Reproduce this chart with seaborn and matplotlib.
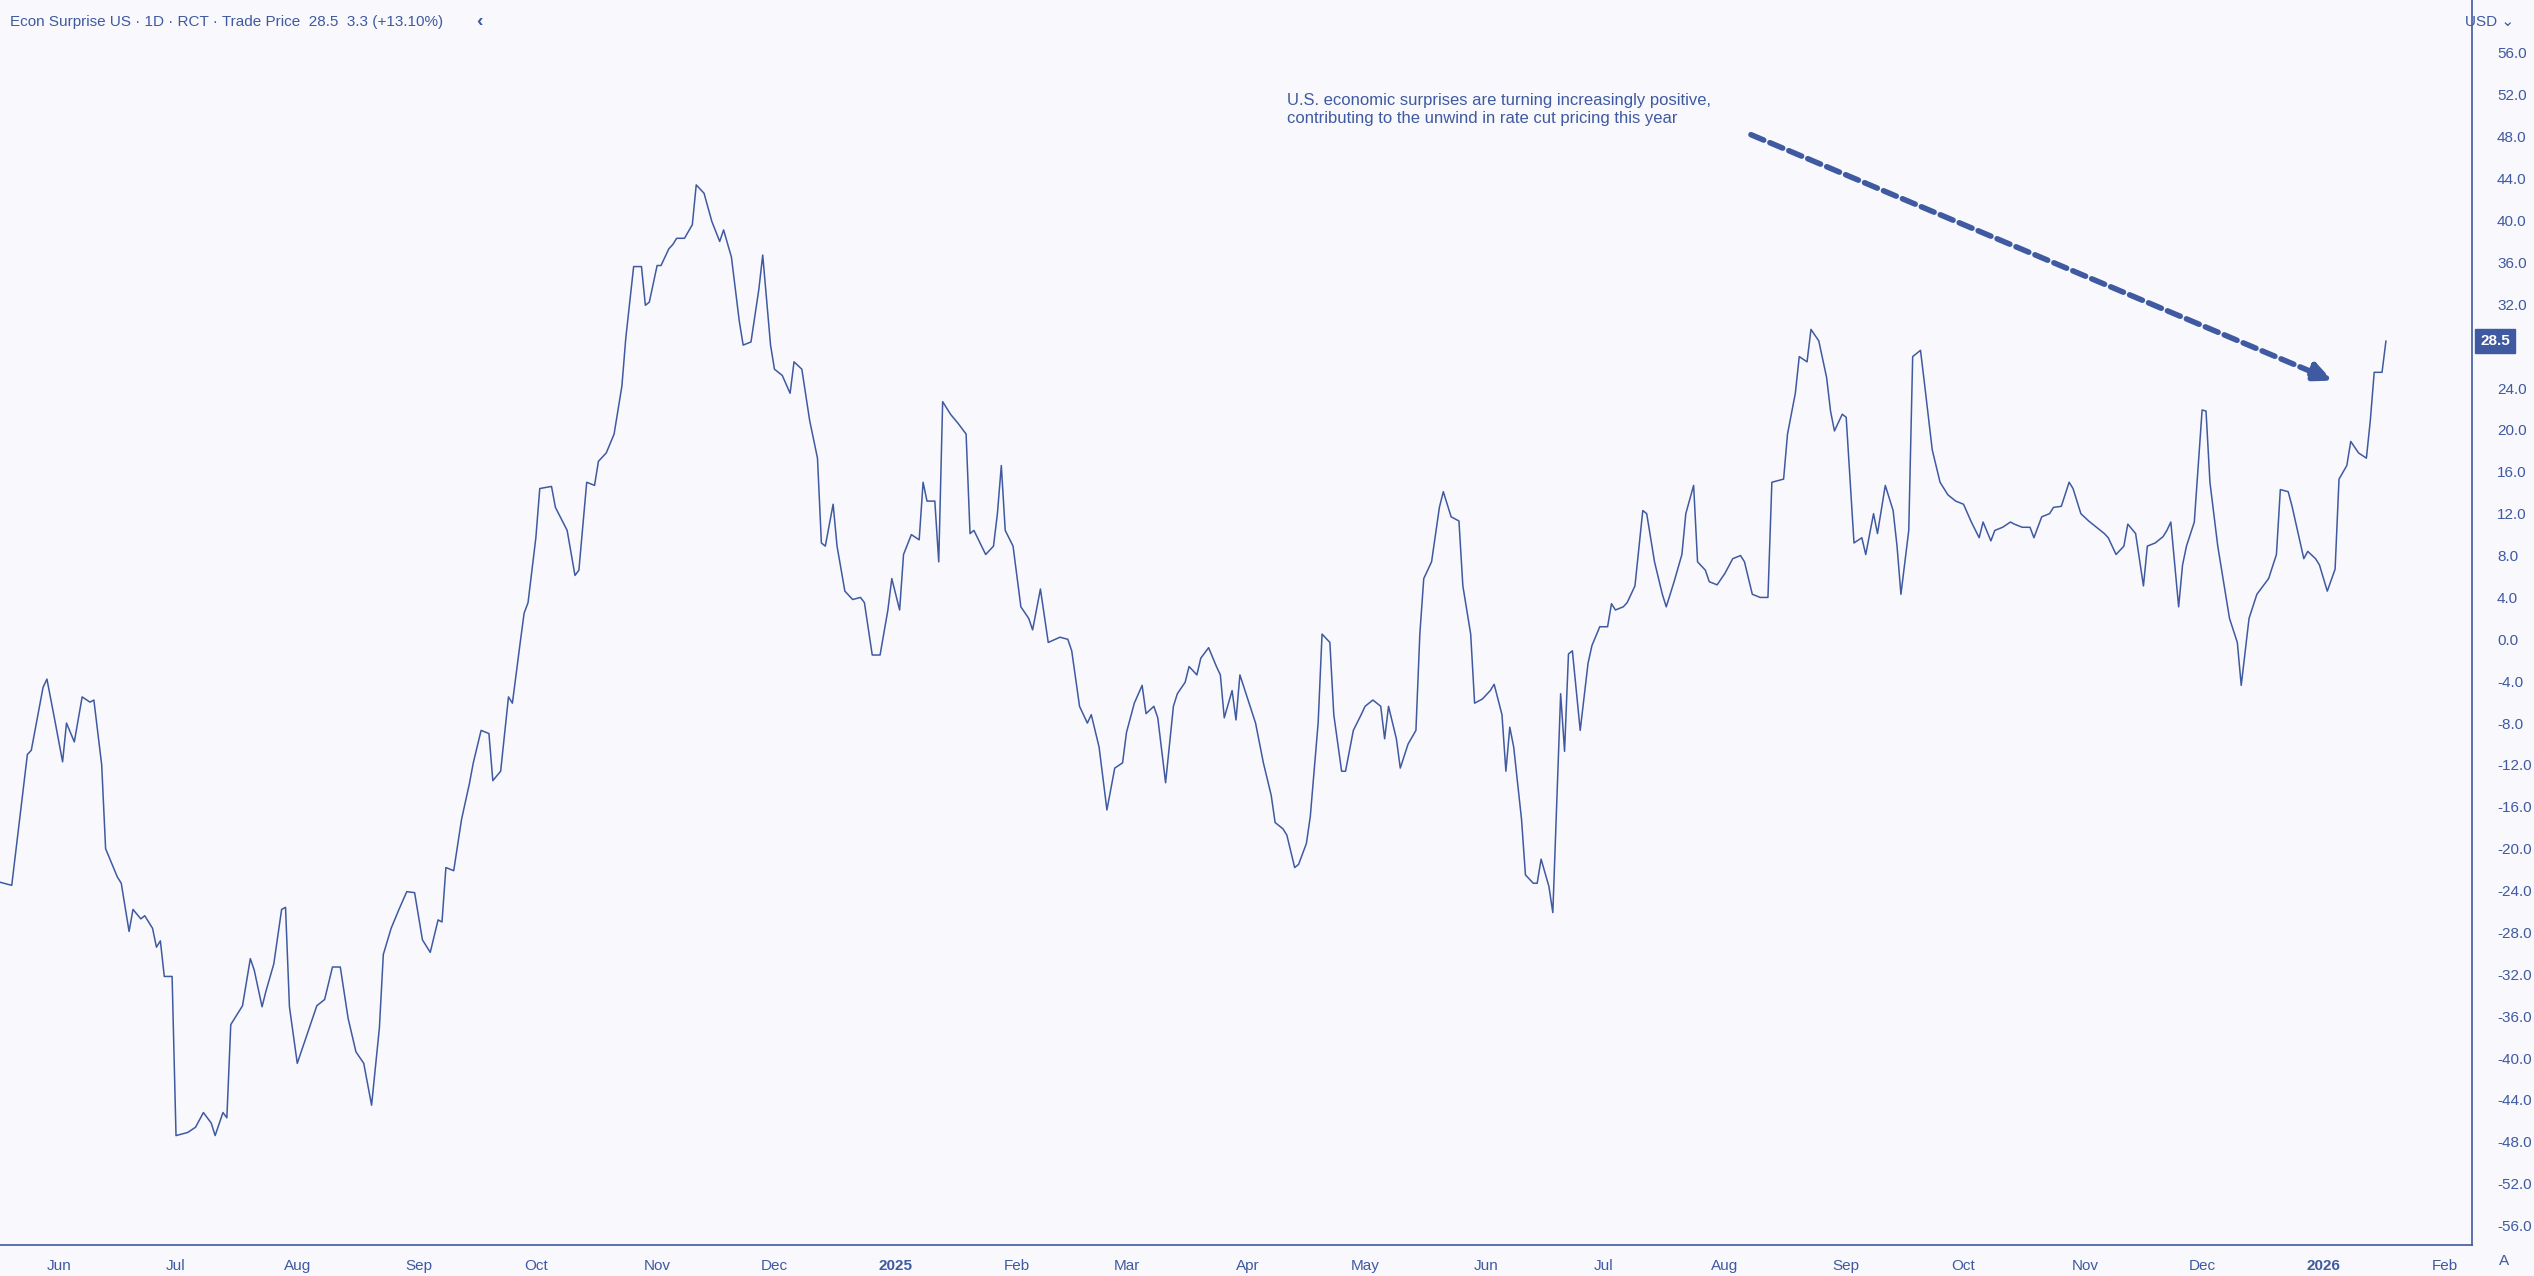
import pandas as pd
import matplotlib
matplotlib.use("Agg")
import matplotlib.pyplot as plt
import seaborn as sns

# =====================================================
# Data
# =====================================================

START = pd.Timestamp("2024-05-17")

day_offsets = [
    0, 3, 7, 8, 11, 12, 14, 16, 17, 19,
    21, 23, 24, 26, 27, 30, 31, 33, 34, 36,
    37, 39, 40, 41, 42, 44, 45, 48, 50, 52,
    54, 55, 57, 58, 59, 62, 64, 65, 67, 68,
    70, 72, 73, 74, 76, 78, 81, 83, 85, 87,
    89, 91, 93, 95, 97, 98, 100, 102, 104, 106,
    108, 110, 112, 113, 114, 116, 118, 120, 121, 123,
    125, 126, 128, 130, 131, 133, 134, 135, 137, 138,
    141, 142, 145, 147, 148, 150, 152, 153, 155, 157,
    159, 160, 162, 164, 165, 166, 168, 169, 171, 172,
    173, 175, 177, 178, 180, 182, 184, 185, 187, 189,
    190, 192, 194, 195, 197, 198, 200, 202, 203, 205,
    207, 209, 210, 211, 213, 214, 216, 218, 220, 221,
    223, 225, 227, 228, 230, 231, 233, 235, 236, 237,
    239, 240, 241, 243, 245, 247, 248, 249, 252, 254,
    255, 256, 257, 259, 261, 263, 264, 266, 268, 271,
    273, 274, 276, 278, 279, 281, 283, 285, 287, 288,
    290, 292, 293, 295, 296, 298, 300, 301, 303, 304,
    306, 307, 309, 311, 312, 313, 315, 316, 317, 319,
    321, 323, 325, 326, 328, 329, 331, 332, 334, 335,
    337, 338, 340, 341, 343, 344, 346, 348, 349, 351,
    353, 354, 355, 357, 358, 360, 362, 363, 364, 366,
    368, 369, 371, 373, 374, 376, 377, 379, 381, 382,
    384, 385, 386, 387, 389, 390, 392, 393, 394, 396,
    397, 399, 400, 401, 402, 404, 406, 407, 409, 411,
    412, 413, 415, 416, 418, 420, 421, 423, 425, 426,
    428, 430, 431, 433, 434, 436, 437, 439, 441, 443,
    445, 446, 448, 450, 452, 453, 456, 457, 459, 460,
    462, 463, 465, 467, 468, 469, 471, 472, 474, 476,
    477, 479, 480, 482, 484, 485, 486, 488, 489, 491,
    492, 494, 496, 498, 500, 502, 504, 506, 507, 509,
    510, 512, 514, 515, 517, 519, 520, 522, 524, 525,
    527, 529, 530, 532, 534, 536, 538, 539, 541, 543,
    544, 546, 548, 549, 551, 553, 554, 555, 557, 558,
    559, 561, 563, 564, 565, 567, 568, 570, 572, 573,
    575, 577, 578, 580, 582, 583, 585, 586, 589, 590,
    592, 593, 595, 597, 598, 600, 601, 603, 605, 606,
    607, 609, 610,
]

surprise = [
    -23.2, -23.5, -11.0, -10.6, -4.6, -3.8, -7.7, -11.7, -8.0, -9.8,
    -5.5, -6.0, -5.8, -12.0, -20.0, -22.7, -23.3, -27.9, -25.8, -26.7,
    -26.4, -27.6, -29.4, -28.8, -32.2, -32.2, -47.4, -47.1, -46.6, -45.2,
    -46.2, -47.4, -45.2, -45.7, -36.8, -35.0, -30.5, -31.6, -35.1, -33.6,
    -31.0, -25.8, -25.6, -35.1, -40.5, -38.3, -35.0, -34.4, -31.3, -31.3,
    -36.2, -39.4, -40.5, -44.5, -37.1, -30.1, -27.6, -25.8, -24.1, -24.2,
    -28.7, -29.9, -26.8, -27.0, -21.8, -22.1, -17.2, -13.8, -11.8, -8.7,
    -9.0, -13.5, -12.6, -5.5, -6.1, -0.3, 2.5, 3.5, 9.7, 14.4,
    14.6, 12.6, 10.4, 6.1, 6.6, 15.0, 14.7, 17.0, 17.8, 19.6,
    24.2, 28.8, 35.6, 35.6, 31.9, 32.2, 35.7, 35.7, 37.3, 37.7,
    38.3, 38.3, 39.6, 43.4, 42.6, 39.9, 38.0, 39.1, 36.5, 30.4,
    28.1, 28.4, 33.4, 36.7, 28.1, 25.8, 25.2, 23.5, 26.5, 25.8,
    20.9, 17.3, 9.2, 8.9, 12.9, 8.9, 4.6, 3.8, 4.0, 3.5,
    -1.5, -1.5, 2.8, 5.8, 2.8, 8.1, 10.0, 9.5, 15.0, 13.2,
    13.2, 7.4, 22.7, 21.5, 20.6, 19.6, 10.1, 10.4, 8.1, 8.9,
    12.0, 16.6, 10.4, 8.9, 3.1, 2.0, 0.9, 4.8, -0.3, 0.2,
    0.0, -1.1, -6.4, -8.0, -7.2, -10.3, -16.3, -12.3, -11.8, -8.9,
    -6.1, -4.4, -7.1, -6.4, -7.5, -13.7, -6.4, -5.2, -4.1, -2.6,
    -3.4, -1.8, -0.8, -2.6, -3.4, -7.5, -4.9, -7.7, -3.4, -5.7,
    -8.0, -11.8, -14.9, -17.5, -18.1, -18.7, -21.8, -21.5, -19.5, -16.9,
    -8.0, 0.5, -0.3, -7.2, -12.6, -12.6, -8.7, -7.2, -6.4, -5.8,
    -6.4, -9.5, -6.4, -9.5, -12.3, -10.0, -8.7, 0.5, 5.8, 7.4,
    12.6, 14.1, 11.7, 11.3, 5.1, 0.5, -6.1, -5.7, -4.9, -4.3,
    -7.2, -12.6, -8.4, -10.3, -17.2, -22.5, -23.3, -23.3, -21.0, -23.6,
    -26.1, -5.2, -10.7, -1.4, -1.1, -8.7, -2.3, -0.6, 1.2, 1.2,
    3.4, 2.8, 3.1, 3.5, 5.1, 12.3, 12.0, 7.4, 4.3, 3.1,
    5.5, 8.1, 12.0, 14.7, 7.4, 6.6, 5.5, 5.2, 6.3, 7.7,
    8.0, 7.4, 4.3, 4.0, 4.0, 15.0, 15.3, 19.6, 23.5, 27.0,
    26.5, 29.6, 28.5, 25.0, 21.8, 19.9, 21.5, 21.2, 9.2, 9.7,
    8.1, 12.0, 10.1, 14.7, 12.3, 8.9, 4.3, 10.4, 27.0, 27.6,
    24.5, 18.1, 15.0, 13.8, 13.2, 12.9, 11.2, 9.7, 11.2, 9.4,
    10.4, 10.7, 11.2, 11.0, 10.7, 10.7, 9.7, 11.7, 12.0, 12.6,
    12.7, 15.0, 14.4, 12.0, 11.3, 10.7, 10.1, 9.7, 8.1, 8.9,
    11.0, 10.1, 5.1, 8.9, 9.2, 9.8, 10.4, 11.2, 3.1, 7.1,
    8.9, 11.2, 21.9, 21.8, 15.0, 8.9, 6.6, 2.0, -0.3, -4.4,
    2.0, 4.3, 4.8, 5.8, 8.1, 14.3, 14.1, 12.7, 7.7, 8.4,
    7.7, 7.1, 4.6, 6.7, 15.3, 16.6, 18.9, 17.8, 17.3, 20.9,
    25.5, 25.5, 28.5,
]

y_ticks = list(range(-56, 60, 4))
month_ticks = ["2024-06-01", "2024-07-01", "2024-08-01", "2024-09-01", "2024-10-01",
               "2024-11-01", "2024-12-01", "2025-01-01", "2025-02-01", "2025-03-01",
               "2025-04-01", "2025-05-01", "2025-06-01", "2025-07-01", "2025-08-01",
               "2025-09-01", "2025-10-01", "2025-11-01", "2025-12-01", "2026-01-01",
               "2026-02-01"]
month_labels = ["Jun", "Jul", "Aug", "Sep", "Oct", "Nov", "Dec", "2025", "Feb", "Mar",
                "Apr", "May", "Jun", "Jul", "Aug", "Sep", "Oct", "Nov", "Dec", "2026", "Feb"]

df = pd.DataFrame({
    "date": START + pd.to_timedelta(day_offsets, unit="D"),
    "value": surprise,
})

# =====================================================
# Style
# =====================================================

BLUE = "#3f5aa0"
BG = "#f8f8fd"

sns.set_style("white")
plt.rcParams["font.family"] = ["Liberation Sans", "DejaVu Sans"]
plt.rcParams["axes.unicode_minus"] = False

fig = plt.figure(figsize=(25.34, 12.76), dpi=100, facecolor=BG)
ax = fig.add_axes([0, 31 / 1276, 2472 / 2534, 1 - 31 / 1276])
ax.set_facecolor(BG)

sns.lineplot(data=df, x="date", y="value", ax=ax, color=BLUE, linewidth=1.1,
             estimator=None, sort=False)

ax.set_xlim(START, START + pd.Timedelta(days=632))
ax.set_ylim(-57.85, 61.06)

# last value gets its own tag, so the tick under it stays blank
last = surprise[-1]
ax.yaxis.tick_right()
ax.set_yticks(y_ticks)
ax.set_yticklabels(["" if abs(v - last) < 2 else f"{v:.1f}" for v in y_ticks])
ax.tick_params(axis="y", length=0, pad=18, labelsize=11, labelcolor=BLUE)

ax.set_xticks(pd.to_datetime(month_ticks))
ax.set_xticklabels(month_labels)
ax.tick_params(axis="x", length=0, pad=10, labelsize=11, labelcolor=BLUE)
for lab in ax.get_xticklabels():
    if lab.get_text().isdigit():
        lab.set_fontweight("bold")

ax.set_xlabel("")
ax.set_ylabel("")
for side in ["left", "top"]:
    ax.spines[side].set_visible(False)
for side in ["right", "bottom"]:
    ax.spines[side].set_color(BLUE)
    ax.spines[side].set_linewidth(1.2)

# header + price tag
fig.text(0.004, 0.983, "Econ Surprise US · 1D · RCT · Trade Price  28.5  3.3 (+13.10%)",
         color=BLUE, fontsize=11, va="center")
fig.text(0.188, 0.983, "‹", color=BLUE, fontsize=14, va="center", fontweight="bold")
fig.text(0.992, 0.983, "USD ⌄", color=BLUE, fontsize=11, va="center", ha="right")
fig.text(0.988, 0.012, "A", color=BLUE, fontsize=11, va="center", ha="center")

ax.annotate(f"{last:.1f}", xy=(1.0, last),
            xycoords=("axes fraction", "data"), xytext=(6, 0),
            textcoords="offset points", va="center", ha="left",
            color="white", fontsize=11, fontweight="bold",
            bbox=dict(boxstyle="square,pad=0.35", fc=BLUE, ec=BLUE))

# annotation text + dashed arrow
ax.text(START + pd.Timedelta(days=329), 52.2,
        "U.S. economic surprises are turning increasingly positive,\n"
        "contributing to the unwind in rate cut pricing this year",
        color=BLUE, fontsize=12, va="top", ha="left", linespacing=1.25)

ax.annotate("", xy=(START + pd.Timedelta(days=597), 24.6),
            xytext=(START + pd.Timedelta(days=447), 48.3),
            arrowprops=dict(arrowstyle="-|>,head_length=1.2,head_width=0.55",
                            color=BLUE, lw=4, linestyle=(0, (2.5, 1.2))))

fig.savefig("out.png", dpi=100, facecolor=BG)
